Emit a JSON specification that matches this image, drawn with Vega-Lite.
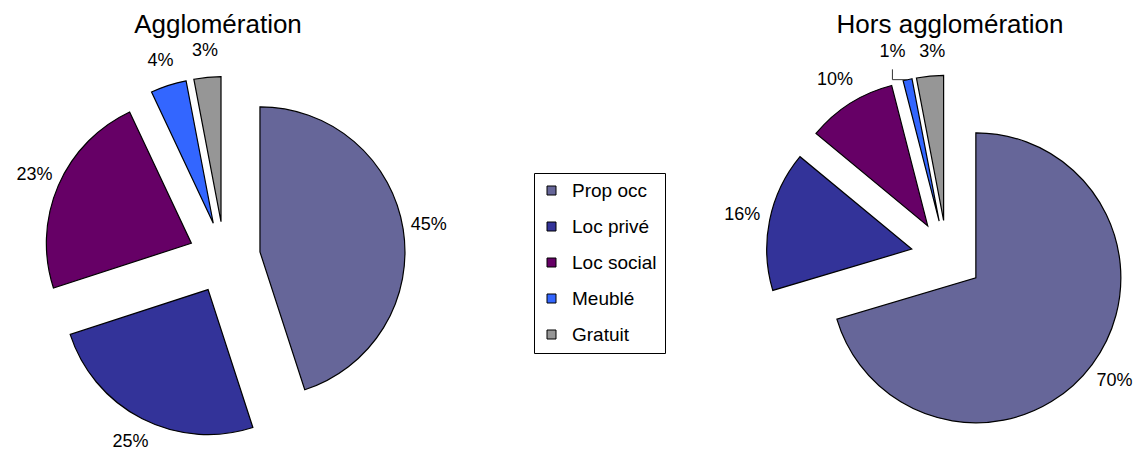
{
  "$schema": "https://vega.github.io/schema/vega-lite/v6.json",
  "background": "white",
  "padding": 0,
  "bounds": "flush",
  "spacing": 320,
  "datasets": {
    "logement": [
      {"chart": "Agglomération", "cat": "Prop occ", "pct": 45},
      {"chart": "Agglomération", "cat": "Loc privé", "pct": 25},
      {"chart": "Agglomération", "cat": "Loc social", "pct": 23},
      {"chart": "Agglomération", "cat": "Meublé", "pct": 4},
      {"chart": "Agglomération", "cat": "Gratuit", "pct": 3},
      {"chart": "Hors agglomération", "cat": "Prop occ", "pct": 70.4},
      {"chart": "Hors agglomération", "cat": "Loc privé", "pct": 15.6},
      {"chart": "Hors agglomération", "cat": "Loc social", "pct": 10},
      {"chart": "Hors agglomération", "cat": "Meublé", "pct": 1},
      {"chart": "Hors agglomération", "cat": "Gratuit", "pct": 3}
    ]
  },
  "config": {
    "view": {"stroke": null},
    "font": "Liberation Sans"
  },
  "resolve": {
    "scale": {"color": "shared", "x": "independent", "y": "independent"},
    "legend": {"color": "shared"}
  },
  "hconcat": [
    {
      "width": 436,
      "height": 450,
      "title": {"text": "Agglomération", "fontSize": 26, "fontWeight": "normal", "font": "Liberation Sans", "color": "black", "anchor": "middle", "frame": "group", "offset": -38},
      "data": {"name": "logement"},
      "transform": [
        {"filter": "datum.chart === 'Agglomération'"},
        {"window": [{"op": "sum", "field": "pct", "as": "cum"}], "frame": [null, 0]},
        {"calculate": "datum.cum - datum.pct", "as": "start"},
        {"calculate": "PI * (datum.start + datum.cum) / 100", "as": "mid"},
        {"calculate": "36 * sin(datum.mid)", "as": "ox"},
        {"calculate": "36 * cos(datum.mid)", "as": "oy"},
        {"calculate": "datum.ox + 171 * sin(datum.mid)", "as": "lx"},
        {"calculate": "datum.oy + 171 * cos(datum.mid)", "as": "ly"},
        {"calculate": "format(datum.pct, '.0f') + '%'", "as": "label"}
      ],
      "layer": [
        {
          "mark": {"type": "arc", "radius": 145, "stroke": "black", "strokeWidth": 1.2},
          "encoding": {
            "x": {"field": "ox", "type": "quantitative", "scale": {"domain": [-224.4, 211.6], "nice": false, "zero": false}, "axis": null},
            "y": {"field": "oy", "type": "quantitative", "scale": {"domain": [-192.5, 257.5], "nice": false, "zero": false}, "axis": null},
            "theta": {"field": "start", "type": "quantitative", "stack": null, "scale": {"domain": [0, 100], "range": [0, 6.283185307179586]}},
            "theta2": {"field": "cum"},
            "color": {
              "field": "cat", "type": "nominal",
              "scale": {"domain": ["Prop occ", "Loc privé", "Loc social", "Meublé", "Gratuit"], "range": ["#666699", "#333399", "#660066", "#3366FF", "#969696"]},
              "legend": {"title": null, "orient": "none", "legendX": 534, "legendY": 173, "symbolType": "square", "symbolSize": 81, "symbolStrokeColor": "black", "symbolStrokeWidth": 1, "labelFontSize": 19, "labelFont": "Liberation Sans", "labelColor": "black", "rowPadding": 16, "padding": 8, "strokeColor": "black", "fillColor": "white", "labelOffset": 11}
            }
          }
        },
        {
          "mark": {"type": "text", "fontSize": 18, "font": "Liberation Sans", "color": "black", "align": "center", "baseline": "middle"},
          "encoding": {
            "x": {"field": "lx", "type": "quantitative"},
            "y": {"field": "ly", "type": "quantitative"},
            "text": {"field": "label"}
          }
        }
      ]
    },
    {
      "width": 388,
      "height": 450,
      "title": {"text": "Hors agglomération", "fontSize": 26, "fontWeight": "normal", "font": "Liberation Sans", "color": "black", "anchor": "middle", "frame": "group", "offset": -38},
      "data": {"name": "logement"},
      "transform": [
        {"filter": "datum.chart === 'Hors agglomération'"},
        {"window": [{"op": "sum", "field": "pct", "as": "cum"}], "frame": [null, 0]},
        {"calculate": "datum.cum - datum.pct", "as": "start"},
        {"calculate": "PI * (datum.start + datum.cum) / 100", "as": "mid"},
        {"calculate": "36 * sin(datum.mid)", "as": "ox"},
        {"calculate": "36 * cos(datum.mid)", "as": "oy"},
        {"calculate": "datum.ox + 145 * sin(datum.mid)", "as": "ax"},
        {"calculate": "datum.oy + 145 * cos(datum.mid)", "as": "ay"},
        {"calculate": "datum.ox + 173 * sin(datum.mid) + (datum.cat === 'Meublé' ? -9 : datum.cat === 'Gratuit' ? 5 : 0)", "as": "lx"},
        {"calculate": "datum.oy + 173 * cos(datum.mid) + (datum.cat === 'Gratuit' ? -4 : 0)", "as": "ly"},
        {"calculate": "datum.ly - 17", "as": "lyb"},
        {"calculate": "format(datum.pct, '.0f') + '%'", "as": "label"}
      ],
      "layer": [
        {
          "mark": {"type": "arc", "radius": 145, "stroke": "black", "strokeWidth": 1.2},
          "encoding": {
            "x": {"field": "ox", "type": "quantitative", "scale": {"domain": [-191, 197], "nice": false, "zero": false}, "axis": null},
            "y": {"field": "oy", "type": "quantitative", "scale": {"domain": [-193.7, 256.3], "nice": false, "zero": false}, "axis": null},
            "theta": {"field": "start", "type": "quantitative", "stack": null, "scale": {"domain": [0, 100], "range": [0, 6.283185307179586]}},
            "theta2": {"field": "cum"},
            "color": {
              "field": "cat", "type": "nominal",
              "scale": {"domain": ["Prop occ", "Loc privé", "Loc social", "Meublé", "Gratuit"], "range": ["#666699", "#333399", "#660066", "#3366FF", "#969696"]},
              "legend": {"title": null, "orient": "none", "legendX": 534, "legendY": 173, "symbolType": "square", "symbolSize": 81, "symbolStrokeColor": "black", "symbolStrokeWidth": 1, "labelFontSize": 19, "labelFont": "Liberation Sans", "labelColor": "black", "rowPadding": 16, "padding": 8, "strokeColor": "black", "fillColor": "white", "labelOffset": 11}
            }
          }
        },
        {
          "transform": [{"filter": "datum.cat === 'Meublé'"}],
          "mark": {"type": "rule", "color": "#333333", "strokeWidth": 1},
          "encoding": {
            "x": {"field": "lx", "type": "quantitative"},
            "y": {"field": "lyb", "type": "quantitative"},
            "y2": {"field": "ay"}
          }
        },
        {
          "transform": [{"filter": "datum.cat === 'Meublé'"}],
          "mark": {"type": "rule", "color": "#333333", "strokeWidth": 1},
          "encoding": {
            "x": {"field": "lx", "type": "quantitative"},
            "x2": {"field": "ax"},
            "y": {"field": "ay", "type": "quantitative"}
          }
        },
        {
          "mark": {"type": "text", "fontSize": 18, "font": "Liberation Sans", "color": "black", "align": "center", "baseline": "middle"},
          "encoding": {
            "x": {"field": "lx", "type": "quantitative"},
            "y": {"field": "ly", "type": "quantitative"},
            "text": {"field": "label"}
          }
        }
      ]
    }
  ]
}
